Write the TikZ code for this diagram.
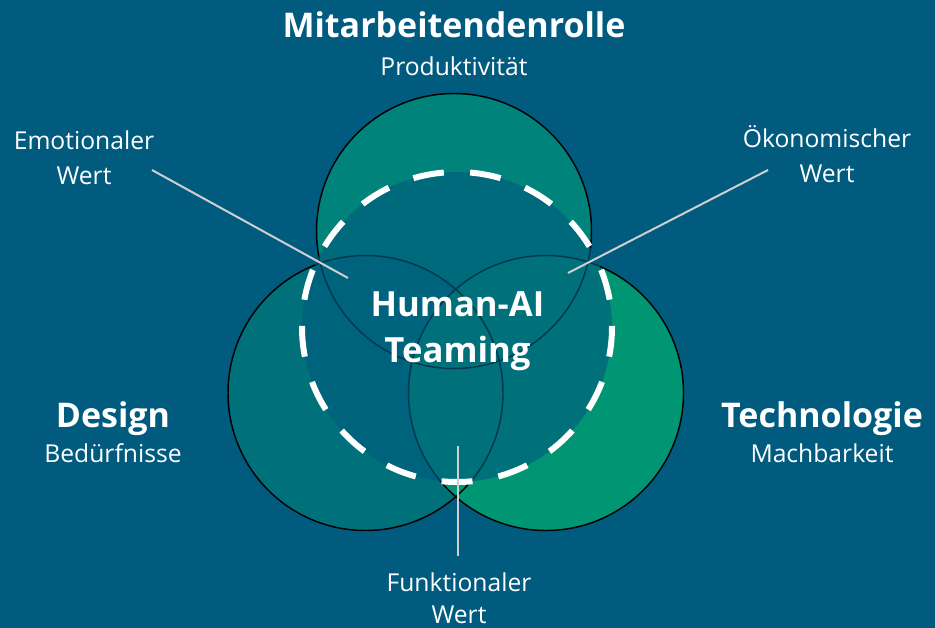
\documentclass[tikz,border=0pt]{standalone}
\usepackage{fontspec}
\setmainfont{Open Sans}
\definecolor{bgblue}{HTML}{005B7F}
\definecolor{topgreen}{HTML}{00837A}
\definecolor{leftgreen}{HTML}{00717A}
\definecolor{rightgreen}{HTML}{009673}
\definecolor{leadergray}{HTML}{CFCFCF}

\begin{document}
\begin{tikzpicture}[x=0.75pt,y=-0.75pt,
  head/.style={text=white,font=\bfseries\fontsize{25.5}{30}\selectfont,anchor=base,inner sep=0pt},
  sub/.style={text=white,font=\fontsize{18.5}{26.25}\selectfont,anchor=base,inner sep=0pt,align=center},
  core/.style={text=white,font=\bfseries\fontsize{26}{34.5}\selectfont,anchor=base,inner sep=0pt,align=center},
  leader/.style={leadergray,line width=1.5pt}]
\fill [bgblue] (0,0) rectangle (935,628);
\useasboundingbox (0,0) rectangle (935,628);
% the three circles
\fill [topgreen] (454,231) circle (137.5);
\fill [leftgreen] (365.5,393) circle (137.5);
\fill [rightgreen] (546,393) circle (137.5);
\draw [black,line width=1.1pt] (454,231) circle (137.5);
\draw [black,line width=1.1pt] (365.5,393) circle (137.5);
\draw [black,line width=1.1pt] (546,393) circle (137.5);
% teaming circle
\fill [bgblue,opacity=0.62] (457,327) circle (155);
\draw [white,line width=4.5pt,dash pattern=on 23.25pt off 19.72pt,dash phase=0.9pt] (457,327) circle (155);
% labels (multi-line nodes sit on their last baseline)
\node [head] (mitarb) at (454,37) {Mitarbeitendenrolle};
\node [sub] (prod) at (454,75) {Produktivität};
\node [head] (design) at (113,427) {Design};
\node [sub] (bed) at (113,462) {Bedürfnisse};
\node [head] (tech) at (822,427) {Technologie};
\node [sub] (mach) at (822,462) {Machbarkeit};
\node [core] (hai) at (457.5,362.5) {Human-AI\\Teaming};
\node [sub] (emo) at (84,184) {Emotionaler\\Wert};
\node [sub] (oeko) at (827,182) {Ökonomischer\\Wert};
\node [sub,font=\fontsize{18.5}{24}\selectfont] (funk) at (459,623) {Funktionaler\\Wert};
% leader lines
\coordinate (emoA) at (152,170);
\coordinate (emoB) at (348,278);
\coordinate (oekoA) at (768,170);
\coordinate (oekoB) at (568,273);
\coordinate (funkA) at (457.5,446);
\coordinate (funkB) at (457.5,556);
\draw [leader] (emoA) -- (emoB);
\draw [leader] (oekoA) -- (oekoB);
\draw [leader] (funkA) -- (funkB);
\end{tikzpicture}
\end{document}
